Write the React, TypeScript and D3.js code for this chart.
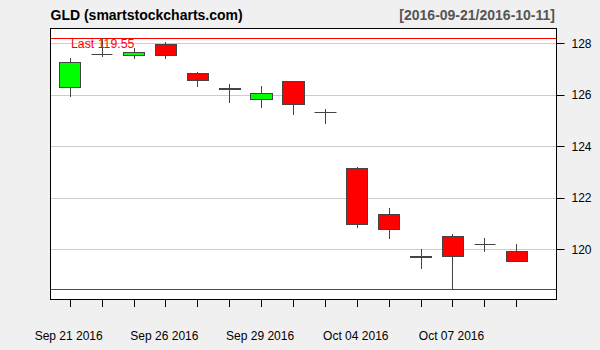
import React from "react";
import * as d3 from "d3";

const dates = ["2016-09-21","2016-09-22","2016-09-23","2016-09-26","2016-09-27","2016-09-28","2016-09-29","2016-09-30","2016-10-03","2016-10-04","2016-10-05","2016-10-06","2016-10-07","2016-10-10","2016-10-11"];
const opens = [126.31,127.57,127.56,127.97,126.85,126.25,125.83,126.52,125.32,123.15,121.36,119.73,120.51,120.19,119.92];
const highs = [127.42,128.19,127.81,128.05,126.89,126.42,126.34,126.53,125.45,123.21,121.60,120.01,120.58,120.44,120.21];
const lows = [125.93,127.48,127.40,127.40,126.31,125.69,125.50,125.23,124.88,120.84,120.41,119.25,118.45,119.91,119.52];
const closes = [127.26,127.57,127.65,127.53,126.59,126.21,126.06,125.63,125.32,120.97,120.78,119.69,119.75,120.19,119.55];

const yTicks = [120, 122, 124, 126, 128];
const xLabelIdx = [0, 3, 6, 9, 12];
const xLabels = ["Sep 21 2016", "Sep 26 2016", "Sep 29 2016", "Oct 04 2016", "Oct 07 2016"];
const title = "GLD (smartstockcharts.com)";
const rangeText = "[2016-09-21/2016-10-11]";

export default function App() {
  const W = 600, H = 350;
  const L = 50, R = 556, T = 28, B = 299;
  const x = d3.scaleLinear().domain([0, dates.length - 1]).range([69.7, 516.3]);
  const y = d3.scaleLinear().domain([118.07, 128.594]).range([B, T]);
  const px = (v: number) => Math.round(v) + 0.5;
  const bw = 21.3;
  const maxHigh = d3.max(highs) as number;
  const minLow = d3.min(lows) as number;
  const last = closes[closes.length - 1];
  const font = "'Liberation Sans', Arial, sans-serif";

  return (
    <svg width={W} height={H} style={{ position: "absolute", left: 0, top: 0, display: "block" }} fontFamily={font}>
      <rect x={0} y={0} width={W} height={H} fill="#f0f0f0" />
      <rect x={L} y={T} width={R - L} height={B - T} fill="#ffffff" />
      {yTicks.map((t) => (
        <line key={"g" + t} x1={L} x2={R} y1={px(y(t))} y2={px(y(t))} stroke="#cccccc" strokeWidth={1} />
      ))}
      <line x1={L} x2={R} y1={px(y(maxHigh))} y2={px(y(maxHigh))} stroke="#ff0000" strokeWidth={1} />
      <line x1={L} x2={R} y1={px(y(minLow))} y2={px(y(minLow))} stroke="#ff0000" strokeWidth={1} />
      {dates.map((d, i) => {
        const cx = px(x(i));
        const o = opens[i], c = closes[i];
        const top = Math.round(y(Math.max(o, c)));
        const bot = Math.round(y(Math.min(o, c)));
        const x0 = Math.round(x(i) - bw / 2) + 0.5;
        const x1 = Math.round(x(i) + bw / 2) + 0.5;
        const fill = c > o ? "#00ff00" : "#ff0000";
        return (
          <g key={d}>
            <line x1={cx} x2={cx} y1={Math.round(y(highs[i]))} y2={Math.round(y(lows[i]))} stroke="#444444" strokeWidth={1} />
            {bot - top >= 1 ? (
              <rect x={x0} y={top + 0.5} width={x1 - x0} height={bot - top} fill={fill} stroke="#444444" strokeWidth={1} />
            ) : (
              <line x1={x0} x2={x1} y1={top + 0.5} y2={top + 0.5} stroke="#444444" strokeWidth={1} />
            )}
          </g>
        );
      })}
      <text x={71} y={47.7} fontSize={12.3} fill="#ff0000">{"Last " + last.toFixed(2)}</text>
      <rect x={L + 0.5} y={T + 0.5} width={R - L} height={B - T} fill="none" stroke="#000000" strokeWidth={1} />
      {yTicks.map((t) => (
        <g key={"yt" + t}>
          <line x1={R + 0.5} x2={R + 8.5} y1={px(y(t))} y2={px(y(t))} stroke="#000000" strokeWidth={1} />
          <text x={571.5} y={y(t) + 4.4} fontSize={12} fill="#000000">{t}</text>
        </g>
      ))}
      {dates.map((d, i) => (
        <line key={"xt" + d} x1={px(x(i))} x2={px(x(i))} y1={B + 0.5} y2={B + 8} stroke="#000000" strokeWidth={1} />
      ))}
      {xLabelIdx.map((idx, k) => (
        <text key={"xl" + k} x={x(idx) - 1} y={340} fontSize={12} textAnchor="middle" fill="#000000">{xLabels[k]}</text>
      ))}
      <text x={50.5} y={19.5} fontSize={14} fontWeight="bold" fill="#000000">{title}</text>
      <text x={555} y={19.5} fontSize={14} fontWeight="bold" fill="#555555" textAnchor="end">{rangeText}</text>
    </svg>
  );
}
